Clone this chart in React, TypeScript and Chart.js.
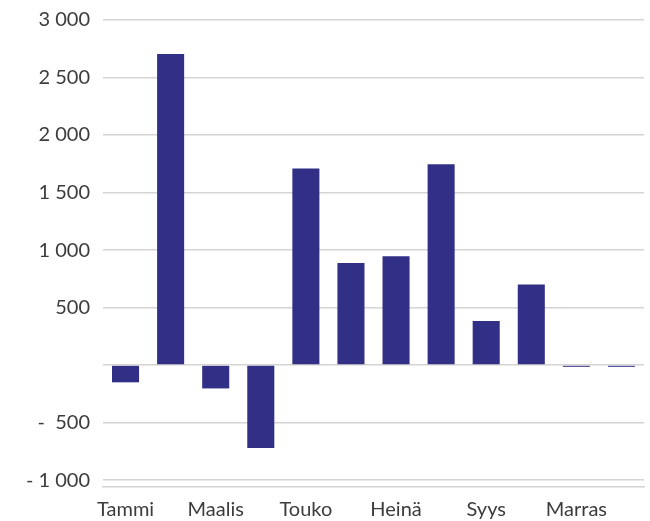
import React, { useEffect, useRef } from "react";
import { Chart, registerables } from "chart.js";

Chart.register(...registerables);

const months = ["Tammi", "Helmi", "Maalis", "Huhti", "Touko", "Kesä", "Heinä", "Elo", "Syys", "Loka", "Marras", "Joulu"];
const values = [-150, 2705, -203, -722, 1710, 888, 946, 1745, 383, 700, -15, -15];
const yTicks = [-1000, -500, 0, 500, 1000, 1500, 2000, 2500, 3000];
const yMin = -1060;
const yMax = 3000;

function fmt(v: number): string {
  if (v === 0) return "";
  const abs = Math.abs(v);
  const s = abs >= 1000 ? Math.floor(abs / 1000) + " " + String(abs % 1000).padStart(3, "0") : String(abs);
  return v < 0 ? (abs >= 1000 ? "- " + s : "-  " + s) : s;
}

export default function App() {
  const ref = useRef<HTMLCanvasElement | null>(null);
  useEffect(() => {
    document.body.style.margin = "0";
    const ctx = ref.current!.getContext("2d")!;
    const font = { family: "Lato, 'Open Sans', sans-serif", size: 20 };
    const chart = new Chart(ctx, {
      type: "bar",
      data: {
        labels: months,
        datasets: [
          {
            data: values,
            backgroundColor: "#322F86",
            borderWidth: 0,
            barPercentage: 0.6,
            categoryPercentage: 1,
          },
        ],
      },
      options: {
        animation: false,
        responsive: false,
        maintainAspectRatio: false,
        layout: { padding: { left: 0, right: 6, top: 20, bottom: 0 } },
        plugins: { legend: { display: false }, tooltip: { enabled: false } },
        scales: {
          x: {
            grid: { display: false },
            border: { display: true, color: "#d4d4d4", width: 1.5 },
            ticks: {
              autoSkip: false,
              maxRotation: 0,
              padding: 3,
              color: "#3c3c3c",
              font,
              callback: (_v: any, i: number) => (i % 2 === 0 ? months[i] : ""),
            },
            afterFit: (s: any) => {
              s.height = 34;
            },
          },
          y: {
            min: yMin,
            max: yMax,
            afterBuildTicks: (s: any) => {
              s.ticks = yTicks.map((v) => ({ value: v }));
            },
            grid: { color: "#d4d4d4", lineWidth: 1.5, drawTicks: false },
            border: { display: false },
            ticks: {
              padding: 13,
              color: "#3c3c3c",
              font,
              callback: (v: any) => fmt(Number(v)),
            },
            afterFit: (s: any) => {
              s.width = 103;
              s.paddingTop = 0;
              s.paddingBottom = 0;
            },
          },
        },
      },
    });
    return () => chart.destroy();
  }, []);
  return <canvas ref={ref} width={650} height={521} style={{ display: "block", width: 650, height: 521 }} />;
}
